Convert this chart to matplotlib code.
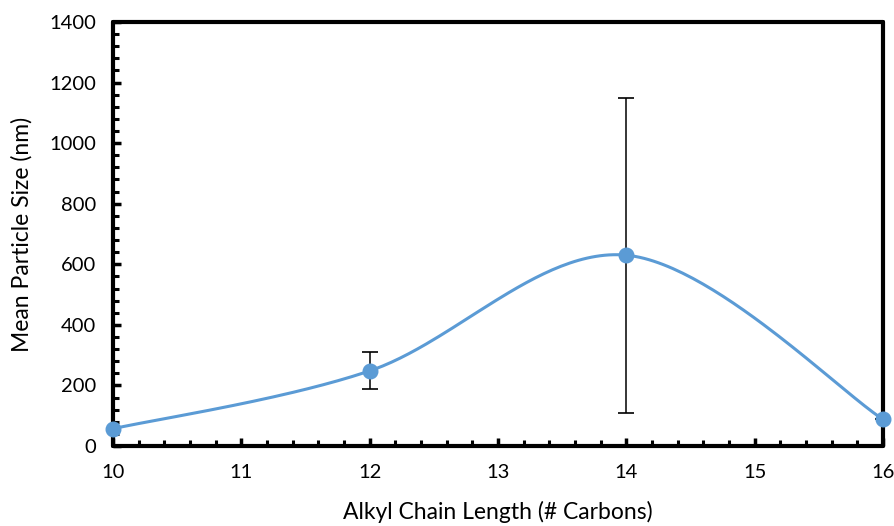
import numpy as np
import matplotlib.pyplot as plt
from matplotlib.ticker import MultipleLocator

chain_len = [10, 12, 14, 16]
size_nm = [57, 248, 630, 88]
size_err = [0, 61, 520, 0]

plt.rcParams['font.family'] = ['Lato', 'DejaVu Sans']


def smooth(x, y, n=60):
    # Catmull-Rom style bezier, endpoints repeated
    px = np.array([x[0]] + list(x) + [x[-1]], float)
    py = np.array([y[0]] + list(y) + [y[-1]], float)
    t = np.linspace(0, 1, n)[:, None]
    xs, ys = [], []
    for i in range(1, len(px) - 2):
        p0 = np.array([px[i], py[i]])
        p3 = np.array([px[i + 1], py[i + 1]])
        c1 = p0 + (np.array([px[i + 1], py[i + 1]]) - np.array([px[i - 1], py[i - 1]])) / 6
        c2 = p3 - (np.array([px[i + 2], py[i + 2]]) - np.array([px[i], py[i]])) / 6
        b = ((1 - t) ** 3) * p0 + 3 * ((1 - t) ** 2) * t * c1 + 3 * (1 - t) * t ** 2 * c2 + t ** 3 * p3
        xs.extend(b[:, 0])
        ys.extend(b[:, 1])
    return xs, ys


fig = plt.figure(figsize=(8.95, 5.26), dpi=100)
ax = fig.add_axes([0.1263, 0.1521, 0.8603, 0.8061])

sx, sy = smooth(chain_len, size_nm)
ax.plot(sx, sy, color='#5B9BD5', lw=2.2, zorder=3, clip_on=False)
ax.errorbar(chain_len, size_nm, yerr=size_err, fmt='none', ecolor='black',
            elinewidth=1.1, capsize=6, capthick=1.2, zorder=2)
ax.plot(chain_len, size_nm, 'o', color='#5B9BD5', ms=10.5, zorder=4, clip_on=False)

ax.set_xlim(10, 16)
ax.set_ylim(0, 1400)
ax.xaxis.set_major_locator(MultipleLocator(1))
ax.xaxis.set_minor_locator(MultipleLocator(0.2))
ax.yaxis.set_major_locator(MultipleLocator(200))
ax.yaxis.set_minor_locator(MultipleLocator(40))

for s in ax.spines.values():
    s.set_linewidth(3)
    s.set_capstyle('round')
ax.tick_params(which='major', direction='in', length=6, width=2.5, labelsize=14.5)
ax.tick_params(which='minor', direction='in', length=4, width=2.2)
ax.tick_params(axis='x', which='major', pad=13)
ax.tick_params(axis='y', which='major', pad=12)

ax.set_xlabel('Alkyl Chain Length (# Carbons)', fontsize=16.5, labelpad=14)
ax.set_ylabel('Mean Particle Size (nm)', fontsize=16.5, labelpad=12)

fig.savefig('out.png', dpi=100)
